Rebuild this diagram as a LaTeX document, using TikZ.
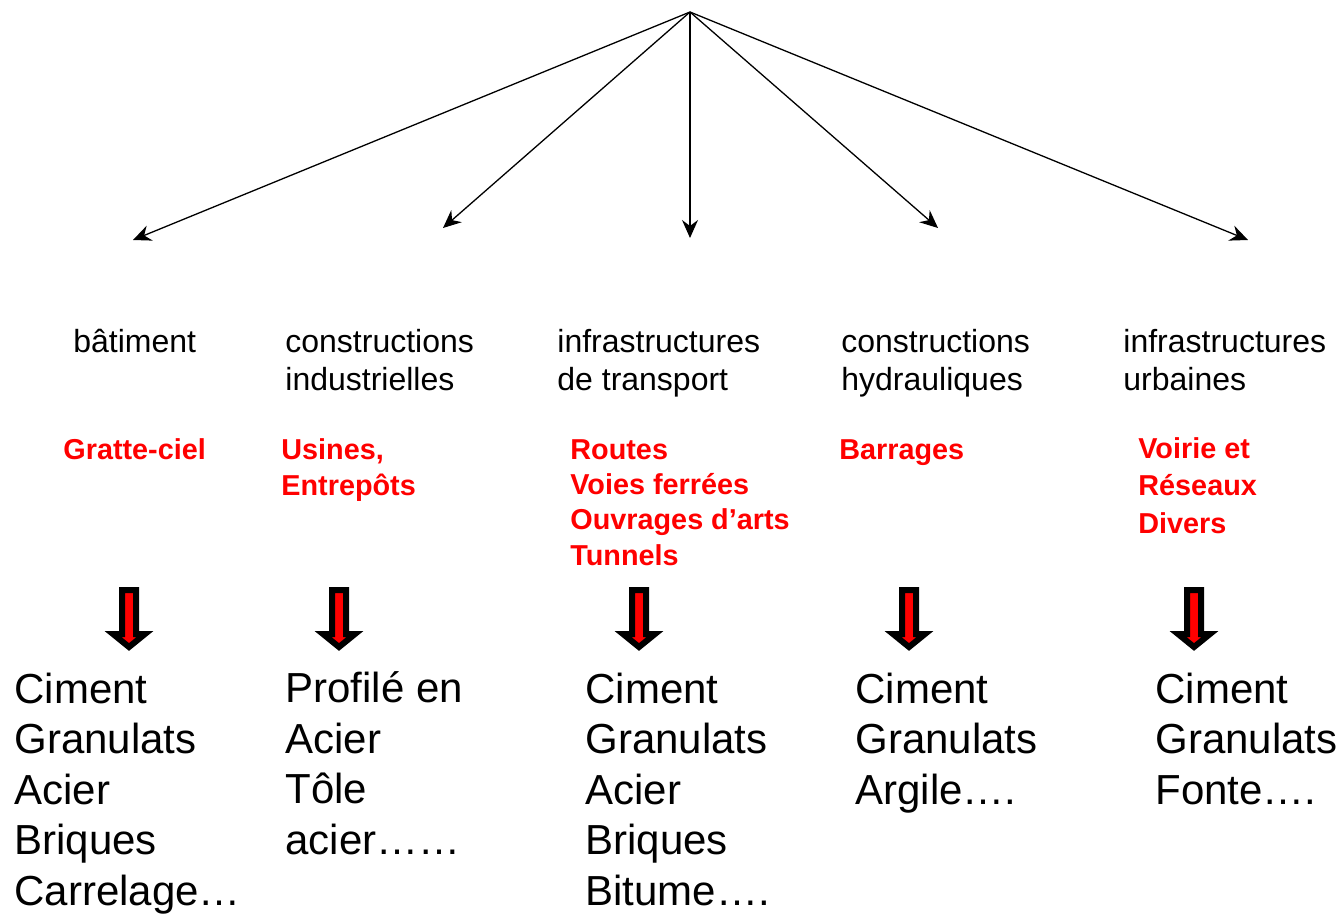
\documentclass[tikz,border=0pt]{standalone}
\usepackage{fontspec}
\setmainfont{Liberation Sans}
\usetikzlibrary{arrows.meta}
\definecolor{pred}{RGB}{255,0,0}
\tikzset{
  thinarrow/.style={draw=black, line width=0.65pt, -{Stealth[length=9pt,width=8pt,inset=3pt]}},
  cat/.style={anchor=base west, inner sep=0pt, align=left, font=\fontsize{16}{19}\selectfont},
  ex/.style={anchor=base west, inner sep=0pt, align=left, text=pred, font=\bfseries\fontsize{14.4}{18}\selectfont},
  mat/.style={anchor=base west, inner sep=0pt, align=left, font=\fontsize{21}{25.25}\selectfont},
  blockarrow/.style={fill=pred, draw=black, line width=3pt, line join=miter, miter limit=3}
}
\newcommand{\blockdown}[1]{%
  \path[blockarrow] (#1-7,590) -- (#1+7,590) -- (#1+7,634) -- (#1+16,634) -- (#1,647) -- (#1-16,634) -- (#1-7,634) -- cycle;}
\begin{document}
\begin{tikzpicture}[x=0.5pt,y=-0.5pt]
\useasboundingbox (0,0) rectangle (1342,914);
\coordinate (apex) at (690,12);
\coordinate (e1) at (133,240);
\coordinate (e2) at (443,228);
\coordinate (e3) at (690,238);
\coordinate (e4) at (938,228);
\coordinate (e5) at (1248,240);
\foreach \e in {e1,e2,e3,e4,e5} \draw[thinarrow] (apex) -- (\e);

% anchor base = baseline of the last line
\node[cat] (c1) at (73,352) {bâtiment};
\node[cat] (c2) at (285,390) {constructions\\industrielles};
\node[cat] (c3) at (557,390) {infrastructures\\de transport};
\node[cat] (c4) at (841,390) {constructions\\hydrauliques};
\node[cat] (c5) at (1123,390) {infrastructures\\urbaines};

\node[ex] (x1) at (63,459) {Gratte-ciel};
\node[ex] (x2) at (281,495) {Usines,\\Entrepôts};
\node[ex, font=\bfseries\fontsize{14.4}{17.65}\selectfont] (x3) at (570,565) {Routes\\Voies ferrées\\Ouvrages d’arts\\Tunnels};
\node[ex] (x4) at (839,459) {Barrages};
\node[ex, font=\bfseries\fontsize{14.4}{18.6}\selectfont] (x5) at (1138,533) {Voirie et\\Réseaux\\Divers};

\blockdown{129}
\blockdown{339}
\blockdown{639}
\blockdown{909}
\blockdown{1194}

\node[mat] (m1) at (14,905) {Ciment\\Granulats\\Acier\\Briques\\Carrelage…};
\node[mat] (m2) at (285,854) {Profilé en\\Acier\\Tôle\\acier……};
\node[mat] (m3) at (585,905) {Ciment\\Granulats\\Acier\\Briques\\Bitume….};
\node[mat] (m4) at (855,804) {Ciment\\Granulats\\Argile….};
\node[mat] (m5) at (1155,804) {Ciment\\Granulats\\Fonte….};
\end{tikzpicture}
\end{document}
